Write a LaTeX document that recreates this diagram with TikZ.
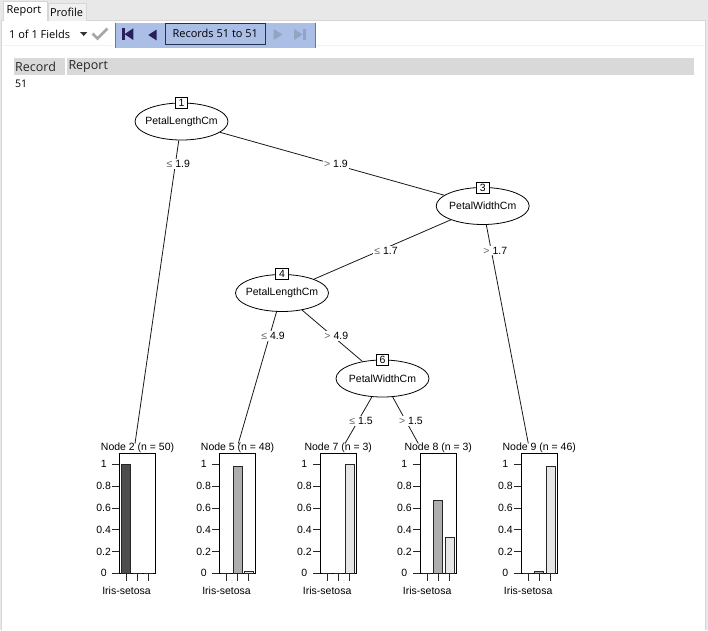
\documentclass[tikz,border=0pt]{standalone}
\usepackage{fontspec}
\setmainfont{Liberation Sans}
\newfontfamily\uifont{Open Sans}
\usetikzlibrary{shapes.geometric}
\newcommand\treefont{\fontsize{10.5}{12}\selectfont}
\newcommand\symgray[1]{{\color{black!60}#1}}
\definecolor{tabgray}{HTML}{E8E8E8}
\definecolor{bordergray}{HTML}{D6D6D6}
\definecolor{hdrgray}{HTML}{D9D9D9}
\definecolor{navblue}{HTML}{AABEE6}
\definecolor{navdark}{HTML}{2A1E5C}
\definecolor{navmuted}{HTML}{93A4C2}
\definecolor{navline}{HTML}{6A7894}
\definecolor{boxline}{HTML}{25324D}
\definecolor{checkgray}{HTML}{A6A6A6}
\definecolor{cA}{HTML}{4D4D4D}
\definecolor{cB}{HTML}{AEAEAE}
\definecolor{cC}{HTML}{E6E6E6}
\tikzset{
  split/.style={ellipse, draw, line width=0.8pt, fill=white, minimum width=93pt, minimum height=37pt, inner sep=0pt, font=\treefont},
  idbox/.style={draw, line width=0.8pt, fill=white, minimum width=12.5pt, minimum height=11pt, inner sep=0pt, font=\treefont},
  edge/.style={line width=0.8pt, draw=black!90},
  elabel/.style={fill=white, inner sep=1pt, font=\treefont},
  leaftitle/.style={inner sep=0pt, font=\treefont},
  frame/.style={line width=0.8pt, draw=black},
  barstyle/.style={line width=0.7pt, draw=black!85},
  axisline/.style={line width=0.8pt, draw=black!85},
  ticklabel/.style={inner sep=0pt, font=\treefont},
  uitext/.style={inner sep=0pt, font=\uifont\fontsize{11}{13}\selectfont},
  hdrtext/.style={inner sep=0pt, anchor=west, font=\uifont\fontsize{12.5}{14}\selectfont, text=black!85},
}
\begin{document}
\begin{tikzpicture}[x=1pt,y=-1pt]
\useasboundingbox (0,0) rectangle (708,630);
% ---------- window chrome ----------
\fill[white] (0,0) rectangle (708,630);
\fill[tabgray] (0,0) rectangle (708,20);
\fill[tabgray] (706,20) rectangle (708,630);
\fill[tabgray] (0,20) rectangle (1.5,630);
\draw[bordergray, line width=0.8pt] (1.5,630) -- (1.5,20.5) -- (705.6,20.5) -- (705.6,630);
% tabs
\fill[white] (3,1.5) rectangle (47,21);
\draw[bordergray, line width=0.6pt] (3,21) -- (3,1.5) -- (47,1.5) -- (47,21);
\fill[white!94!black] (48,3) rectangle (86,20.5);
\draw[bordergray, line width=0.6pt] (48,20.5) -- (48,3) -- (86,3) -- (86,20.5);
\node[uitext] (tabreport) at (24,10.5) {Report};
\node[uitext] (tabprofile) at (66.5,12) {Profile};
% toolbar
\node[uitext, anchor=west] (fields) at (9,34) {1 of 1 Fields};
\fill[black!80] (80,32) -- (87.4,32) -- (83.7,36) -- cycle;
\draw[checkgray, line width=2.6pt] (92.5,33.5) -- (97.5,38.5) -- (107.5,28.5);
\fill[navblue] (114.5,22.7) rectangle (316,47.7);
\draw[navline, line width=0.8pt] (115,22.7) -- (115,47.7);
\draw[navline, line width=0.8pt] (315,22.7) -- (315,47.7);
\fill[navdark] (121.7,28.3) rectangle (124.6,40);
\fill[navdark] (124.6,34.2) -- (133.3,28.3) -- (133.3,40) -- cycle;
\fill[navdark] (148.3,35) -- (156.7,29.5) -- (156.7,40.5) -- cycle;
\node[uitext, draw=boxline, line width=0.8pt, minimum width=99.3pt, minimum height=21pt] (records) at (215.3,33.8) {Records 51 to 51};
\fill[navmuted] (282.5,34.5) -- (273.5,29) -- (273.5,40) -- cycle;
\fill[navmuted] (302.5,34.5) -- (294,29) -- (294,40) -- cycle;
\fill[navmuted] (302.5,29) rectangle (305.5,40);
\draw[white!95!black, line width=0.6pt] (2,45.5) -- (114,45.5);
\draw[white!95!black, line width=0.6pt] (316,45.5) -- (705,45.5);
% header
\fill[hdrgray] (14,58) rectangle (65,75);
\fill[hdrgray] (67,58) rectangle (693.7,75);
\node[hdrtext] (hrecord) at (15,66.5) {Record};
\node[hdrtext] (hreport) at (68.3,66.5) {Report};
\node[inner sep=0pt, anchor=west, font=\uifont\fontsize{10.5}{12}\selectfont] (recno) at (15,84.2) {51};
% ---------- terminal panels ----------
\foreach \bx/\num/\n/\ha/\hb/\hc/\ex in {119.3/2/50/1/0/0/135, 219.3/5/48/0/0.979/0.021/238.3, 320/7/3/0/0/1/345, 420/8/3/0/0.667/0.333/418.3, 521/9/46/0/0.022/0.978/528.3}{
  \node[leaftitle] (leaf\num) at (\bx+18.25,447.6) {Node \num\ (n = \n)};
  \coordinate (e\num) at (\ex,443.5);
  \draw[frame] (\bx,453.3) rectangle (\bx+36.5,573.3);
  \draw[barstyle, fill=cA] (\bx+2.4,573.3) rectangle (\bx+11.4,{573.3-\ha*109});
  \draw[barstyle, fill=cB] (\bx+13.7,573.3) rectangle (\bx+22.7,{573.3-\hb*109});
  \draw[barstyle, fill=cC] (\bx+25,573.3) rectangle (\bx+34,{573.3-\hc*109});
  \foreach \v in {0,0.2,0.4,0.6,0.8,1}{
    \draw[axisline] (\bx-7,{573.3-\v*109}) -- (\bx,{573.3-\v*109});
    \node[ticklabel] at (\bx-15.6,{573.3-\v*109}) {\v};
  }
  \foreach \t in {6.9,18.2,29.5}{
    \draw[axisline] (\bx+\t,573.3) -- (\bx+\t,580.5);
  }
  \node[ticklabel] at (\bx+7.2,591) {Iris-setosa};
}
% ---------- inner nodes ----------
\node[split] (n1) at (181.5,121.5) {\makebox[0pt][c]{PetalLengthCm}};
\node[split] (n3) at (482.7,206) {\makebox[0pt][c]{PetalWidthCm}};
\node[split] (n4) at (282,293) {\makebox[0pt][c]{PetalLengthCm}};
\node[split] (n6) at (382.5,378.5) {\makebox[0pt][c]{PetalWidthCm}};
% ---------- edges ----------
\draw[edge] (n1) -- (e2);
\draw[edge] (n1) -- (n3);
\draw[edge] (n3) -- (n4);
\draw[edge] (n3) -- (e9);
\draw[edge] (n4) -- (e5);
\draw[edge] (n4) -- (n6);
\draw[edge] (n6) -- (e7);
\draw[edge] (n6) -- (e8);
% id boxes
\node[idbox] (id1) at (181.5,102.5) {1};
\node[idbox] (id3) at (482.7,188) {3};
\node[idbox] (id4) at (282,274) {4};
\node[idbox] (id6) at (382.5,359.5) {6};
% edge labels
\node[elabel] (l12) at (178.3,164) {\symgray{≤} 1.9};
\node[elabel] (l13) at (336,164) {\symgray{>} 1.9};
\node[elabel] (l34) at (386,250.5) {\symgray{≤} 1.7};
\node[elabel] (l39) at (495.3,250.5) {\symgray{>} 1.7};
\node[elabel] (l45) at (273,336) {\symgray{≤} 4.9};
\node[elabel] (l46) at (336.3,336) {\symgray{>} 4.9};
\node[elabel] (l67) at (361,421) {\symgray{≤} 1.5};
\node[elabel] (l68) at (411,421) {\symgray{>} 1.5};
\end{tikzpicture}
\end{document}
